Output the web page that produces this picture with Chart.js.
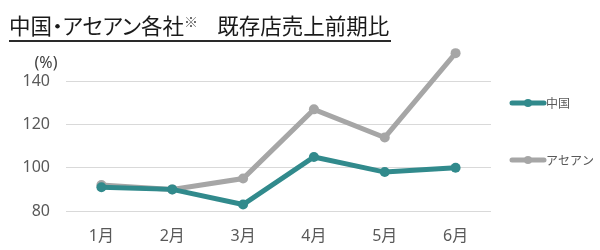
<!DOCTYPE html>
<html><head><meta charset="utf-8">
<script src="https://cdn.jsdelivr.net/npm/chart.js@4"></script>
<style>
html,body{margin:0;padding:0;background:#fff;}
#wrap{position:relative;width:600px;height:250px;}
#title{position:absolute;left:9px;top:9px;font-family:"Noto Sans CJK JP";font-size:21.5px;line-height:25px;color:#1a1a1a;border-bottom:2px solid #2a2a2a;padding-bottom:3px;padding-right:2px;white-space:nowrap;font-feature-settings:"palt";}
#title sup{font-size:14px;vertical-align:7px;color:#555;}
canvas{position:absolute;left:0;top:0;}
</style></head>
<body><div id="wrap"><canvas id="c" width="600" height="250"></canvas>
<div id="title">中国・アセアン各社<sup>※</sup>&nbsp;&nbsp;&nbsp;&nbsp;既存店売上前期比</div></div>
<script>
const categories = ["1月","2月","3月","4月","5月","6月"];
const chinaValues = [91, 90, 83, 105, 98, 100];
const aseanValues = [92, 90, 95, 127, 114, 153];
const seriesNames = ["中国","アセアン"];
const yTicks = [80, 100, 120, 140];
const unitLabel = "(%)";

const TEAL = "#318a8c", GRAY = "#a6a6a6", TXT = "#595959";
const FONT = '"Noto Sans", "Noto Sans CJK JP", sans-serif';

const extras = {
  id: "extras",
  afterDraw(chart) {
    const ctx = chart.ctx;
    ctx.save();
    ctx.fillStyle = "#404040";
    ctx.font = "16px " + FONT;
    ctx.textAlign = "center";
    ctx.textBaseline = "middle";
    ctx.fillText(unitLabel, 46, 63);
    const items = [[seriesNames[0], TEAL, 103], [seriesNames[1], GRAY, 160]];
    ctx.font = '12px "Noto Sans CJK JP"';
    ctx.textAlign = "left";
    items.forEach(([name, col, y]) => {
      ctx.strokeStyle = col; ctx.lineWidth = 5; ctx.lineCap = "round";
      ctx.beginPath(); ctx.moveTo(512, y); ctx.lineTo(544, y); ctx.stroke();
      ctx.fillStyle = col; ctx.beginPath(); ctx.arc(528, y, 4, 0, Math.PI*2); ctx.fill();
      ctx.fillStyle = TXT; ctx.fillText(name, 546, y);
    });
    ctx.restore();
  }
};

new Chart(document.getElementById("c"), {
  type: "line",
  data: {
    labels: categories,
    datasets: [
      { label: seriesNames[0], data: chinaValues, borderColor: TEAL, backgroundColor: TEAL, borderWidth: 5, pointRadius: 5, pointBackgroundColor: TEAL, pointBorderWidth: 0, tension: 0 },
      { label: seriesNames[1], data: aseanValues, borderColor: GRAY, backgroundColor: GRAY, borderWidth: 5, pointRadius: 5, pointBackgroundColor: GRAY, pointBorderWidth: 0, tension: 0 }
    ]
  },
  options: {
    responsive: false, animation: false,
    layout: { padding: { top: 38, right: 109, left: 0, bottom: 0 } },
    plugins: { legend: { display: false }, tooltip: { enabled: false } },
    scales: {
      x: {
        offset: true,
        grid: { display: false, drawTicks: false },
        border: { display: false },
        ticks: { color: TXT, font: { family: FONT, size: 16 }, padding: 16 },
        afterFit(s) { s.height = 39; }
      },
      y: {
        min: 80, max: 160,
        afterBuildTicks(s) { s.ticks = yTicks.concat([160]).map(v => ({ value: v })); },
        grid: { color: c => c.tick && c.tick.value === 160 ? "rgba(0,0,0,0)" : "#d9d9d9", lineWidth: 1, drawTicks: false },
        border: { display: false },
        ticks: { color: TXT, font: { family: FONT, size: 16 }, padding: 16, callback: v => yTicks.includes(v) ? String(v) : "" },
        afterFit(s) { s.width = 66; }
      }
    }
  },
  plugins: [extras]
});
</script></body></html>
